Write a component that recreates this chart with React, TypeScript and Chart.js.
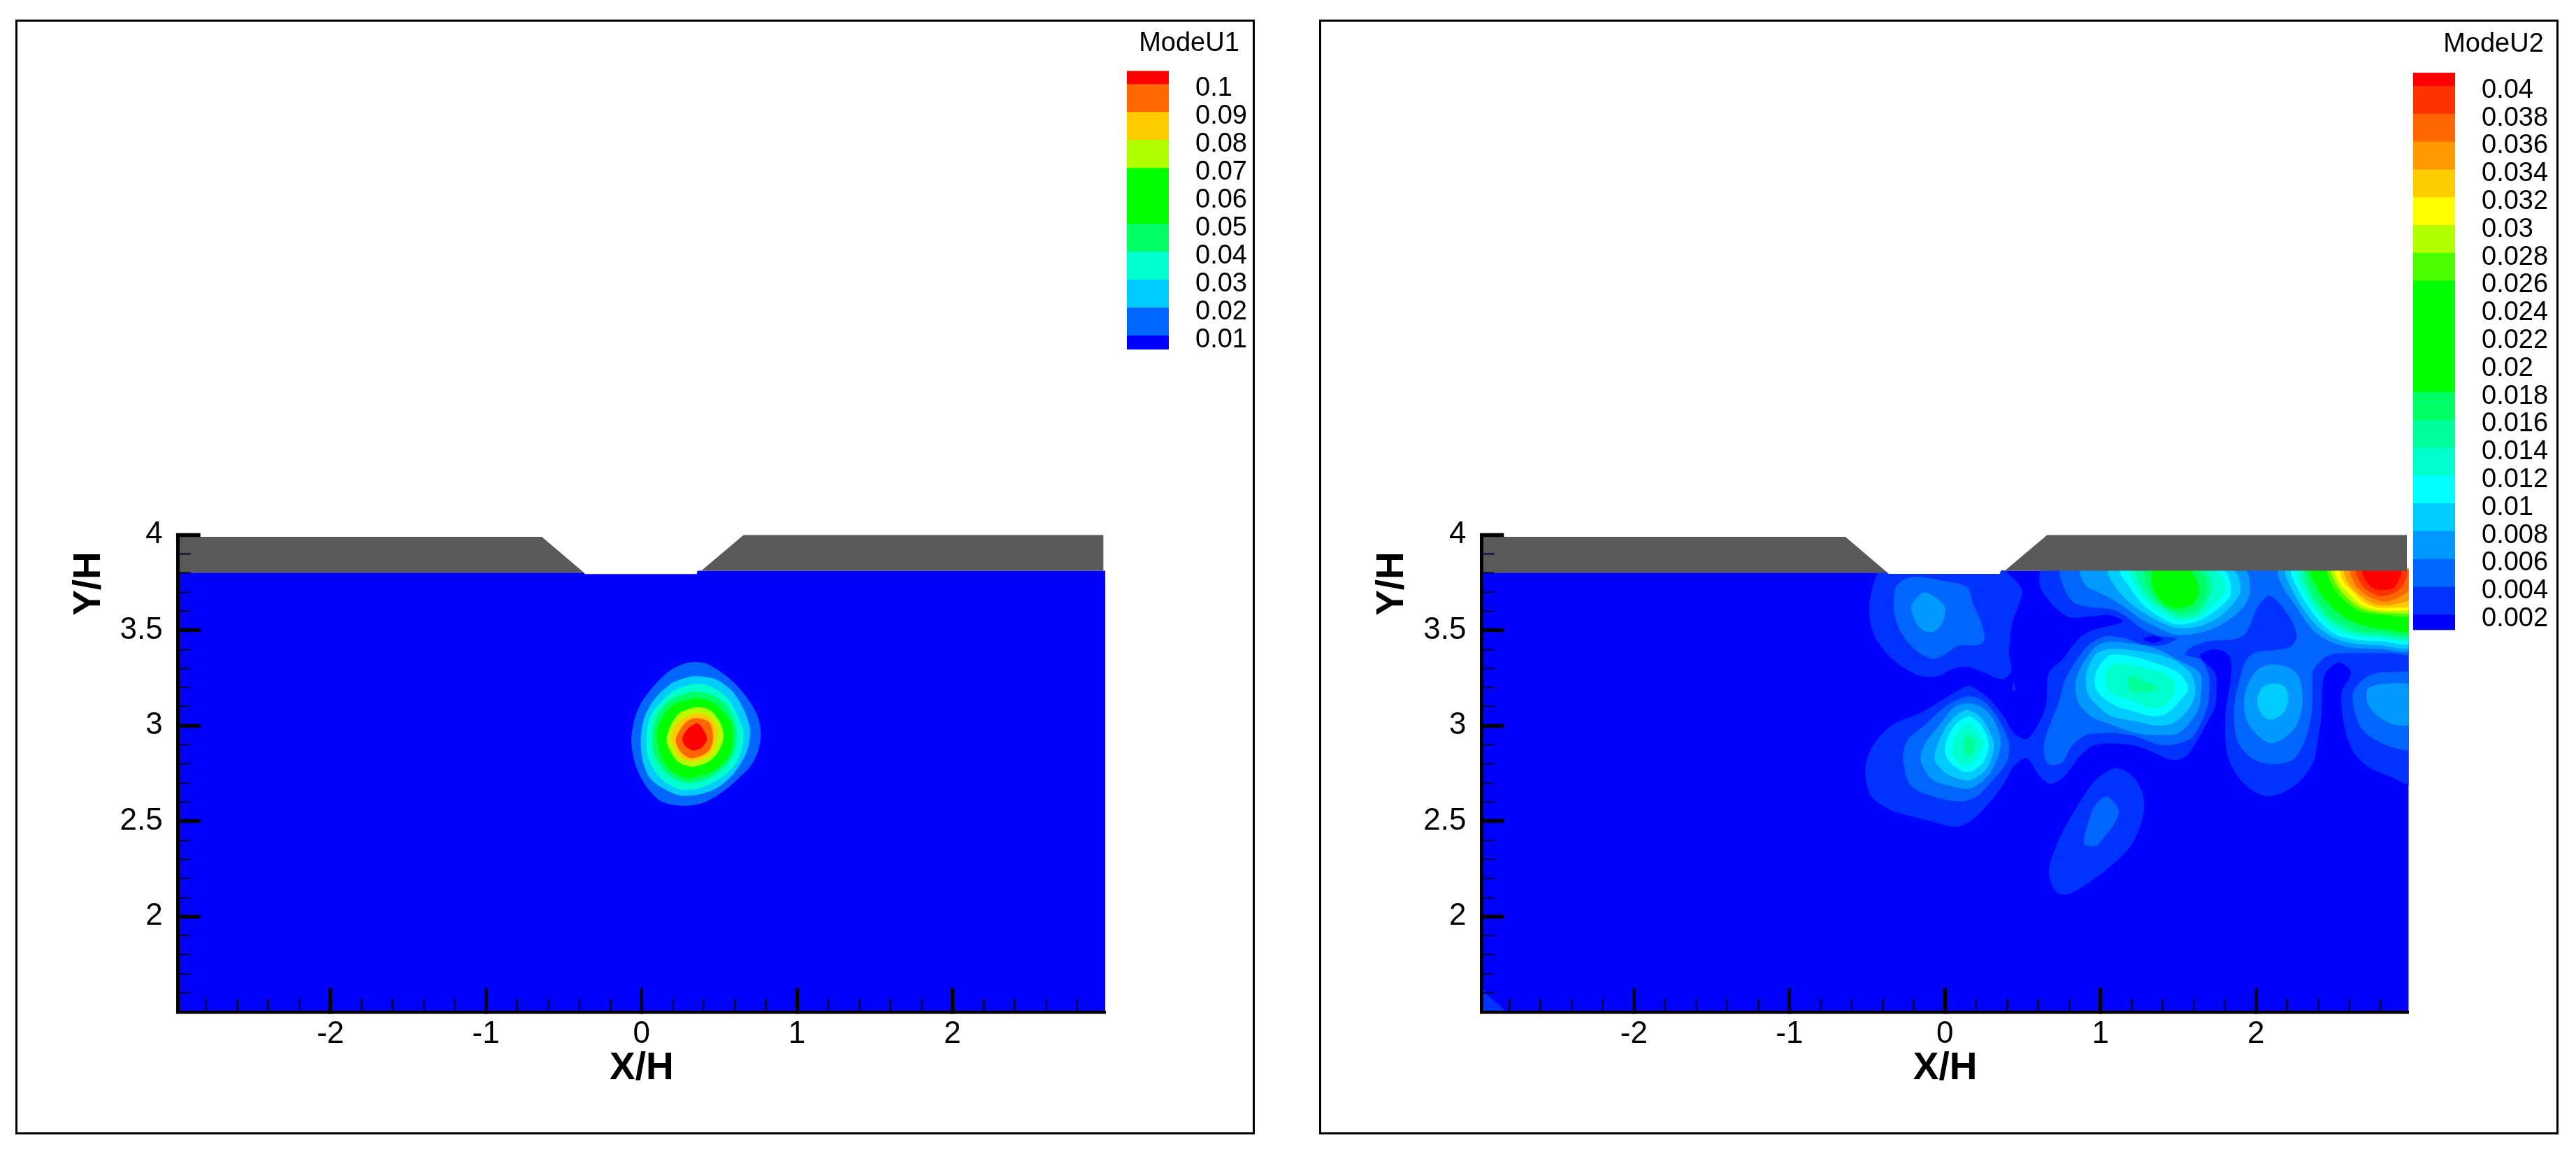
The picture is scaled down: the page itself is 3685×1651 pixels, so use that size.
import React, { useEffect, useRef } from "react";
import { Chart, registerables } from "chart.js";

Chart.register(...registerables);

type Pt = [number, number];

const FONT = "'Liberation Sans', Arial, sans-serif";

// ---------- axes ----------
const xMajorTicks = [-2, -1, 0, 1, 2];
const xMinorTicks = [-2.8, -2.6, -2.4, -2.2, -1.8, -1.6, -1.4, -1.2, -0.8, -0.6, -0.4, -0.2, 0.2, 0.4, 0.6, 0.8, 1.2, 1.4, 1.6, 1.8, 2.2, 2.4, 2.6, 2.8];
const yMajorTicks = [2, 2.5, 3, 3.5, 4];
const yMinorTicks = [1.6, 1.7, 1.8, 1.9, 2.1, 2.2, 2.3, 2.4, 2.6, 2.7, 2.8, 2.9, 3.1, 3.2, 3.3, 3.4, 3.6, 3.7, 3.8, 3.9];
const xRange: Pt = [-2.98, 2.982];
const yRange: Pt = [1.5, 4];
const xTitle = "X/H";
const yTitle = "Y/H";

// ---------- geometry ----------
const wallColor = "#595959";
const baseColor = "#0000ff";
const wallLeft: Pt[] = [[-2.98, 3.99], [-0.641, 3.99], [-0.37, 3.802], [-2.98, 3.802]];
const wallRight: Pt[] = [[0.6575, 4], [2.97, 4], [2.97, 3.812], [0.385, 3.812]];
const flowField: Pt[] = [[-2.98, 1.5], [-2.98, 3.802], [-0.37, 3.802], [-0.365, 3.795], [0.355, 3.795], [0.36, 3.812], [2.982, 3.812], [2.982, 1.5]];

// ---------- ModeU1 legend ----------
const u1Title = "ModeU1";
const u1Levels = [0.01, 0.02, 0.03, 0.04, 0.05, 0.06, 0.07, 0.08, 0.09, 0.1];
const u1BandEdges = [0.0051, 0.01, 0.02, 0.03, 0.04, 0.05, 0.07, 0.08, 0.09, 0.1, 0.1048];
const u1BandColors = ["#0000ff", "#0066ff", "#00ccff", "#00ffcc", "#00ff66", "#00ff00", "#b2ff00", "#ffcc00", "#ff6600", "#ff0000"];

// ---------- ModeU2 legend ----------
const u2Title = "ModeU2";
const u2Levels = [0.002, 0.004, 0.006, 0.008, 0.01, 0.012, 0.014, 0.016, 0.018, 0.02, 0.022, 0.024, 0.026, 0.028, 0.03, 0.032, 0.034, 0.036, 0.038, 0.04];
const u2BandEdges = [0.0009, 0.002, 0.004, 0.006, 0.008, 0.01, 0.012, 0.014, 0.016, 0.018, 0.026, 0.028, 0.03, 0.032, 0.034, 0.036, 0.038, 0.04, 0.04097];
const u2BandColors = ["#0000ff", "#0033ff", "#0066ff", "#0099ff", "#00ccff", "#00ffff", "#00ffcc", "#00ff99", "#00ff66", "#00ff00", "#4cff00", "#b2ff00", "#ffff00", "#ffcc00", "#ff9900", "#ff6600", "#ff3300", "#ff0000"];

// ---------- ModeU1 contours ----------
const u1c010: Pt[] = [[.295, 3.33], [.4, 3.33], [.49, 3.293], [.594, 3.226], [.684, 3.14], [.744, 3.055], [.767, 2.969], [.752, 2.872], [.699, 2.786], [.624, 2.725], [.52, 2.652], [.4, 2.597], [.295, 2.581], [.205, 2.585], [.115, 2.609], [.025, 2.689], [-.035, 2.786], [-.065, 2.908], [-.05, 3.018], [-.005, 3.116], [.085, 3.214], [.19, 3.293]];
const u1c020: Pt[] = [[.355, 3.26], [.475, 3.244], [.58, 3.183], [.654, 3.091], [.696, 2.994], [.692, 2.908], [.654, 2.823], [.58, 2.737], [.49, 2.676], [.37, 2.64], [.25, 2.634], [.145, 2.67], [.055, 2.725], [.01, 2.811], [-.005, 2.921], [.018, 3.043], [.085, 3.14], [.19, 3.22], [.28, 3.25]];
const u1c030: Pt[] = [[.355, 3.22], [.46, 3.201], [.557, 3.14], [.617, 3.055], [.654, 2.969], [.647, 2.884], [.594, 2.786], [.505, 2.725], [.385, 2.676], [.265, 2.664], [.16, 2.701], [.085, 2.762], [.04, 2.847], [.033, 2.945], [.055, 3.043], [.13, 3.128], [.22, 3.189]];
const u1c040: Pt[] = [[.355, 3.179], [.46, 3.159], [.542, 3.11], [.594, 3.03], [.612, 2.945], [.594, 2.859], [.535, 2.786], [.43, 2.725], [.31, 2.701], [.205, 2.725], [.123, 2.786], [.078, 2.859], [.07, 2.957], [.1, 3.055], [.175, 3.128], [.265, 3.165]];
const u1c050: Pt[] = [[.355, 3.146], [.445, 3.128], [.52, 3.079], [.58, 3.006], [.587, 2.933], [.565, 2.847], [.505, 2.786], [.4, 2.743], [.295, 2.725], [.205, 2.756], [.145, 2.811], [.108, 2.884], [.1, 2.969], [.138, 3.049], [.205, 3.11], [.287, 3.134]];
const u1c070: Pt[] = [[.362, 3.098], [.445, 3.079], [.512, 3.006], [.527, 2.933], [.49, 2.859], [.43, 2.811], [.325, 2.786], [.235, 2.811], [.19, 2.859], [.16, 2.927], [.19, 3.006], [.235, 3.061], [.295, 3.085]];
const u1c080: Pt[] = [[.355, 3.067], [.445, 3.043], [.49, 2.982], [.475, 2.896], [.43, 2.841], [.325, 2.811], [.25, 2.835], [.213, 2.878], [.19, 2.933], [.213, 3], [.273, 3.043]];
const u1c090: Pt[] = [[.355, 3.04], [.437, 3.018], [.46, 2.933], [.43, 2.866], [.325, 2.829], [.273, 2.847], [.235, 2.884], [.22, 2.927], [.25, 2.982], [.295, 3.024]];
const u1c100: Pt[] = [[.362, 3.012], [.422, 2.933], [.385, 2.884], [.325, 2.872], [.273, 2.902], [.265, 2.939], [.295, 2.982]];

const modeU1Contours: [string, Pt[]][] = [
  ["#0066ff", u1c010], ["#00ccff", u1c020], ["#00ffcc", u1c030], ["#00ff66", u1c040], ["#00ff00", u1c050],
  ["#b2ff00", u1c070], ["#ffcc00", u1c080], ["#ff6600", u1c090], ["#ff0000", u1c100],
];

// ---------- ModeU2 contours: level 0.002 ----------
const u2big002: Pt[] = [[.629, 3.815], [3, 3.815], [3, 2.7], [2.869, 2.731], [2.719, 2.786], [2.629, 2.86], [2.584, 2.945], [2.554, 3.067], [2.551, 3.177], [2.611, 3.281], [2.532, 3.33], [2.449, 3.281], [2.427, 3.189], [2.419, 3.043], [2.397, 2.921], [2.374, 2.823], [2.314, 2.737], [2.21, 2.664], [2.075, 2.63], [1.97, 2.664], [1.88, 2.737], [1.82, 2.835], [1.802, 2.945], [1.805, 3.079], [1.835, 3.226], [1.838, 3.348], [1.79, 3.391], [1.715, 3.399], [1.64, 3.366], [1.738, 3.275], [1.745, 3.189], [1.738, 3.104], [1.67, 2.994], [1.61, 2.908], [1.55, 2.841], [1.461, 2.82], [1.341, 2.86], [1.221, 2.896], [1.071, 2.908], [.951, 2.896], [.861, 2.835], [.771, 2.737], [.681, 2.695], [.621, 2.725], [.524, 2.829], [.441, 2.786], [.382, 2.701], [.292, 2.603], [.172, 2.505], [.067, 2.471], [-.113, 2.505], [-.337, 2.554], [-.472, 2.628], [-.51, 2.725], [-.502, 2.823], [-.442, 2.921], [-.337, 3.006], [-.158, 3.067], [-.008, 3.14], [.149, 3.208], [.217, 3.183], [.292, 3.134], [.382, 3.043], [.441, 2.963], [.524, 2.93], [.606, 3.018], [.651, 3.116], [.666, 3.275], [.756, 3.348], [.861, 3.458], [.951, 3.501], [1.146, 3.546], [1.056, 3.58], [.951, 3.574], [.801, 3.568], [.711, 3.617], [.614, 3.726]];
const u2a002: Pt[] = [[-.427, 3.802], [-.37, 3.802], [-.365, 3.795], [-.337, 3.795], [.33, 3.795], [.352, 3.795], [.36, 3.812], [.385, 3.812], [.494, 3.714], [.472, 3.629], [.434, 3.543], [.412, 3.385], [.427, 3.287], [.37, 3.244], [.262, 3.275], [.142, 3.309], [.037, 3.293], [-.038, 3.262], [-.128, 3.256], [-.218, 3.281], [-.337, 3.348], [-.442, 3.452], [-.48, 3.543], [-.487, 3.629], [-.465, 3.727]];
const u2c002: Pt[] = [[1.093, 2.778], [1.208, 2.735], [1.274, 2.637], [1.274, 2.528], [1.193, 2.369], [1.021, 2.235], [.805, 2.12], [.719, 2.126], [.668, 2.235], [.734, 2.406], [.849, 2.577], [.963, 2.711]];
const u2speck002: Pt[] = [[.439, 3.226], [.451, 3.201], [.445, 3.177], [.433, 3.195]];
const u2corner002: Pt[] = [[-3, 1.64], [-2.93, 1.58], [-2.83, 1.5], [-3, 1.48]];
const u2hole: Pt[] = [[1.273, 3.454], [1.341, 3.472], [1.401, 3.454], [1.341, 3.433]];

// level 0.004
const u2big004: Pt[] = [[.749, 3.815], [3, 3.815], [3, 3.381], [2.869, 3.381], [2.532, 3.379], [2.457, 3.366], [2.404, 3.33], [2.367, 3.287], [2.359, 3.079], [2.314, 2.921], [2.24, 2.823], [2.12, 2.799], [1.985, 2.823], [1.887, 2.908], [1.86, 3.018], [1.865, 3.14], [1.902, 3.262], [1.94, 3.348], [2, 3.385], [2.12, 3.397], [2.225, 3.415], [2.262, 3.47], [2.225, 3.556], [2.15, 3.641], [2.082, 3.681], [2.015, 3.629], [1.97, 3.543], [1.925, 3.476], [1.85, 3.452], [1.7, 3.443], [1.58, 3.409], [1.543, 3.372], [1.64, 3.348], [1.693, 3.275], [1.7, 3.189], [1.685, 3.092], [1.625, 2.982], [1.58, 2.933], [1.475, 2.902], [1.371, 2.902], [1.221, 2.945], [1.071, 2.963], [.951, 2.957], [.906, 2.951], [.816, 2.896], [.749, 2.805], [.666, 2.799], [.636, 2.86], [.644, 2.933], [.681, 3.018], [.734, 3.128], [.771, 3.238], [.839, 3.336], [.921, 3.421], [1.011, 3.464], [1.071, 3.47], [1.161, 3.458], [1.273, 3.427], [1.393, 3.421], [1.49, 3.458], [1.371, 3.472], [1.266, 3.509], [1.161, 3.574], [1.071, 3.61], [.921, 3.623], [.824, 3.647], [.764, 3.726]];
const u2a004: Pt[] = [[-.188, 3.781], [-.038, 3.763], [.142, 3.727], [.179, 3.641], [.232, 3.543], [.254, 3.452], [.217, 3.424], [.082, 3.419], [.007, 3.378], [-.075, 3.35], [-.158, 3.378], [-.247, 3.446], [-.307, 3.531], [-.33, 3.629], [-.315, 3.727], [-.27, 3.763]];
const u2b004: Pt[] = [[.149, 3.155], [.247, 3.128], [.337, 3.043], [.412, 2.908], [.397, 2.811], [.292, 2.701], [.202, 2.628], [.112, 2.603], [-.008, 2.615], [-.158, 2.652], [-.233, 2.701], [-.263, 2.786], [-.27, 2.847], [-.24, 2.927], [-.128, 3.006], [.007, 3.104]];
const u2c004: Pt[] = [[1.038, 2.63], [1.116, 2.56], [1.093, 2.493], [1.026, 2.42], [.973, 2.371], [.894, 2.383], [.921, 2.493], [.958, 2.573]];
const u2f004: Pt[] = [[3, 3.269], [2.869, 3.281], [2.764, 3.275], [2.674, 3.232], [2.622, 3.165], [2.637, 3.067], [2.681, 2.982], [2.779, 2.921], [2.884, 2.886], [3, 2.881]];

// level 0.006
const u2a006: Pt[] = [[-.135, 3.7], [-.06, 3.671], [0, 3.623], [-.015, 3.543], [-.075, 3.492], [-.143, 3.501], [-.188, 3.543], [-.218, 3.623], [-.188, 3.665]];
const u2b006: Pt[] = [[.149, 3.118], [.247, 3.092], [.322, 3.018], [.359, 2.908], [.322, 2.799], [.262, 2.725], [.157, 2.67], [.037, 2.683], [-.083, 2.719], [-.143, 2.786], [-.158, 2.835], [-.128, 2.908], [-.038, 3], [.052, 3.092]];
const u2e006: Pt[] = [[2.12, 3.321], [2.21, 3.305], [2.27, 3.262], [2.299, 3.177], [2.292, 3.079], [2.254, 2.994], [2.165, 2.927], [2.09, 2.908], [2, 2.957], [1.94, 3.03], [1.922, 3.116], [1.94, 3.201], [2, 3.287], [2.06, 3.314]];
const u2f006: Pt[] = [[3, 3.207], [2.839, 3.22], [2.719, 3.195], [2.719, 3.116], [2.794, 3.043], [2.899, 3.004], [3, 3.012]];
const u2g006: Pt[] = [[.839, 3.226], [.861, 3.116], [.951, 3.043], [1.071, 3.006], [1.221, 2.963], [1.371, 2.951], [1.505, 2.963], [1.625, 3.079], [1.648, 3.189], [1.64, 3.275], [1.52, 3.336], [1.341, 3.409], [1.071, 3.44], [.981, 3.421], [.936, 3.385], [.876, 3.311]];
const u2h006: Pt[] = [[.876, 3.815], [1.925, 3.815], [1.962, 3.714], [1.925, 3.629], [1.805, 3.543], [1.67, 3.494], [1.49, 3.476], [1.371, 3.513], [1.266, 3.556], [1.161, 3.617], [1.071, 3.665], [.981, 3.702], [.906, 3.733]];
const u2j006: Pt[] = [[2.147, 3.815], [2.165, 3.739], [2.254, 3.629], [2.359, 3.507], [2.464, 3.446], [2.599, 3.411], [2.794, 3.402], [3, 3.402], [3, 3.815]];

// level 0.008
const u2b008: Pt[] = [[.149, 3.082], [.232, 3.043], [.299, 2.945], [.314, 2.884], [.277, 2.786], [.217, 2.737], [.142, 2.713], [.022, 2.743], [-.053, 2.799], [-.068, 2.835], [-.045, 2.908], [.007, 2.994], [.082, 3.061]];
const u2e008: Pt[] = [[2.12, 3.222], [2.187, 3.201], [2.207, 3.153], [2.187, 3.079], [2.12, 3.037], [2.067, 3.037], [2.015, 3.092], [2.012, 3.153], [2.045, 3.204]];
const u2g008: Pt[] = [[.906, 3.262], [.921, 3.165], [1.006, 3.085], [1.071, 3.049], [1.221, 3.024], [1.371, 3], [1.476, 3.018], [1.58, 3.104], [1.61, 3.189], [1.58, 3.275], [1.461, 3.348], [1.296, 3.385], [1.071, 3.403], [.966, 3.372]];
const u2h008: Pt[] = [[1.053, 3.815], [1.85, 3.815], [1.902, 3.714], [1.865, 3.653], [1.76, 3.568], [1.625, 3.519], [1.49, 3.513], [1.371, 3.549], [1.266, 3.598], [1.161, 3.665], [1.071, 3.757]];
const u2j008: Pt[] = [[2.195, 3.815], [2.217, 3.739], [2.299, 3.617], [2.397, 3.519], [2.494, 3.464], [2.614, 3.433], [2.794, 3.421], [3, 3.419], [3, 3.815]];

// level 0.01
const u2b010: Pt[] = [[.149, 3.049], [.217, 3.018], [.269, 2.945], [.28, 2.884], [.247, 2.811], [.172, 2.762], [.112, 2.762], [.03, 2.811], [0, 2.866], [.015, 2.933], [.067, 3.006]];
const u2g010: Pt[] = [[.969, 3.275], [.973, 3.189], [1.071, 3.116], [1.221, 3.073], [1.341, 3.049], [1.431, 3.067], [1.52, 3.14], [1.565, 3.195], [1.505, 3.275], [1.371, 3.323], [1.221, 3.36], [1.071, 3.372], [1.026, 3.348]];
const u2h010: Pt[] = [[1.131, 3.815], [1.787, 3.815], [1.838, 3.69], [1.73, 3.598], [1.625, 3.549], [1.49, 3.531], [1.371, 3.574], [1.266, 3.641], [1.176, 3.739]];
const u2j010: Pt[] = [[2.232, 3.815], [2.254, 3.739], [2.337, 3.623], [2.427, 3.531], [2.517, 3.476], [2.629, 3.452], [2.794, 3.443], [3, 3.441], [3, 3.815]];

// level 0.012
const u2b012: Pt[] = [[.149, 3.012], [.209, 2.963], [.247, 2.908], [.209, 2.835], [.157, 2.792], [.097, 2.799], [.049, 2.86], [.052, 2.921], [.097, 2.976]];
const u2g012: Pt[] = [[1.029, 3.262], [1.048, 3.183], [1.071, 3.165], [1.206, 3.128], [1.326, 3.092], [1.416, 3.11], [1.483, 3.195], [1.416, 3.275], [1.296, 3.299], [1.161, 3.324], [1.071, 3.317]];
const u2h012: Pt[] = [[1.191, 3.815], [1.738, 3.815], [1.805, 3.714], [1.715, 3.623], [1.625, 3.565], [1.505, 3.553], [1.401, 3.592], [1.311, 3.641], [1.221, 3.739]];
const u2j012: Pt[] = [[2.27, 3.815], [2.284, 3.739], [2.359, 3.629], [2.449, 3.543], [2.539, 3.495], [2.644, 3.47], [2.794, 3.461], [3, 3.458], [3, 3.815]];

// level 0.014
const u2b014: Pt[] = [[.154, 2.951], [.199, 2.908], [.154, 2.835], [.112, 2.902]];
const u2g014: Pt[] = [[1.191, 3.262], [1.266, 3.238], [1.378, 3.195], [1.221, 3.171], [1.176, 3.208]];
const u2h014: Pt[] = [[1.236, 3.815], [1.678, 3.815], [1.723, 3.739], [1.7, 3.671], [1.625, 3.586], [1.505, 3.57], [1.423, 3.61], [1.333, 3.653], [1.258, 3.739]];
const u2j014: Pt[] = [[2.307, 3.815], [2.314, 3.739], [2.382, 3.641], [2.472, 3.553], [2.561, 3.509], [2.659, 3.482], [2.794, 3.474], [3, 3.47], [3, 3.815]];

// level 0.016 and up
const u2h016: Pt[] = [[1.288, 3.815], [1.633, 3.815], [1.686, 3.733], [1.67, 3.671], [1.61, 3.61], [1.505, 3.59], [1.423, 3.61], [1.356, 3.659], [1.296, 3.739]];
const u2j016: Pt[] = [[2.329, 3.815], [2.337, 3.739], [2.401, 3.647], [2.494, 3.562], [2.584, 3.525], [2.674, 3.497], [2.794, 3.488], [3, 3.485], [3, 3.815]];
const u2h018: Pt[] = [[1.341, 3.815], [1.573, 3.815], [1.633, 3.714], [1.595, 3.641], [1.498, 3.614], [1.416, 3.635], [1.341, 3.714]];
const u2j018: Pt[] = [[2.352, 3.815], [2.389, 3.726], [2.464, 3.641], [2.569, 3.568], [2.689, 3.525], [2.839, 3.504], [3, 3.501], [3, 3.815]];
const u2j026: Pt[] = [[2.464, 3.815], [2.487, 3.739], [2.554, 3.665], [2.644, 3.61], [2.734, 3.586], [2.839, 3.58], [3, 3.582], [3, 3.815]];
const u2j028: Pt[] = [[2.487, 3.815], [2.509, 3.751], [2.577, 3.678], [2.659, 3.623], [2.749, 3.598], [2.869, 3.59], [3, 3.598], [3, 3.815]];
const u2j030: Pt[] = [[2.514, 3.815], [2.532, 3.751], [2.599, 3.69], [2.674, 3.635], [2.764, 3.61], [2.869, 3.602], [3, 3.619], [3, 3.815]];
const u2j032: Pt[] = [[2.547, 3.815], [2.562, 3.757], [2.629, 3.696], [2.704, 3.641], [2.779, 3.619], [2.884, 3.619], [3, 3.631], [3, 3.815]];
const u2j034: Pt[] = [[2.574, 3.815], [2.592, 3.751], [2.651, 3.696], [2.734, 3.647], [2.809, 3.631], [2.899, 3.638], [3, 3.671], [3, 3.815]];
const u2j036: Pt[] = [[2.611, 3.815], [2.629, 3.751], [2.681, 3.702], [2.756, 3.665], [2.839, 3.651], [2.929, 3.678], [3, 3.726], [3, 3.815]];
const u2j038: Pt[] = [[2.648, 3.815], [2.666, 3.757], [2.719, 3.708], [2.794, 3.68], [2.869, 3.69], [2.944, 3.733], [2.97, 3.815]];
const u2j040: Pt[] = [[2.686, 3.815], [2.704, 3.763], [2.756, 3.72], [2.831, 3.711], [2.891, 3.726], [2.929, 3.815]];

const modeU2Contours: [string, Pt[]][] = [
  ["#0033ff", u2big002], ["#0033ff", u2a002], ["#0033ff", u2c002], ["#0033ff", u2speck002], ["#0033ff", u2corner002], ["#0000ff", u2hole],
  ["#0066ff", u2big004], ["#0066ff", u2a004], ["#0066ff", u2b004], ["#0066ff", u2c004], ["#0066ff", u2f004],
  ["#0099ff", u2a006], ["#0099ff", u2b006], ["#0099ff", u2e006], ["#0099ff", u2f006], ["#0099ff", u2g006], ["#0099ff", u2h006], ["#0099ff", u2j006],
  ["#00ccff", u2b008], ["#00ccff", u2e008], ["#00ccff", u2g008], ["#00ccff", u2h008], ["#00ccff", u2j008],
  ["#00ffff", u2b010], ["#00ffff", u2g010], ["#00ffff", u2h010], ["#00ffff", u2j010],
  ["#00ffcc", u2b012], ["#00ffcc", u2g012], ["#00ffcc", u2h012], ["#00ffcc", u2j012],
  ["#00ff99", u2b014], ["#00ff99", u2g014], ["#00ff99", u2h014], ["#00ff99", u2j014],
  ["#00ff66", u2h016], ["#00ff66", u2j016],
  ["#00ff00", u2h018], ["#00ff00", u2j018],
  ["#4cff00", u2j026], ["#b2ff00", u2j028], ["#ffff00", u2j030], ["#ffcc00", u2j032], ["#ff9900", u2j034], ["#ff6600", u2j036], ["#ff3300", u2j038], ["#ff0000", u2j040],
];

// ---------- chart builders ----------
const closePolygons = {
  id: "closePolygons",
  afterDatasetsUpdate(chart: any) {
    chart.data.datasets.forEach((_: any, i: number) => {
      const line = chart.getDatasetMeta(i).dataset;
      if (line) {
        line._loop = true;
        line._fullLoop = true;
        line._segments = undefined;
        line._pointsUpdated = false;
      }
    });
  },
};

function polygon(color: string, pts: Pt[], tension: number) {
  return {
    type: "scatter",
    data: pts.map(([x, y]) => ({ x, y })),
    showLine: true,
    fill: "shape",
    spanGaps: true,
    backgroundColor: color,
    borderColor: color,
    borderWidth: 0,
    pointRadius: 0,
    pointHoverRadius: 0,
    tension,
  };
}

function panelConfig(contours: [string, Pt[]][], box: any) {
  const seq = [
    polygon(baseColor, flowField, 0),
    ...contours.map(([c, p]) => polygon(c, p, 0.3)),
    polygon(wallColor, wallLeft, 0),
    polygon(wallColor, wallRight, 0),
  ];
  const datasets = seq.map((d, i) => ({ ...d, order: seq.length - i }));
  const tickFont = { family: FONT, size: 44 };
  const yTitlePlugin = {
    id: "yTitle",
    afterDraw(chart: any) {
      const { ctx } = chart;
      ctx.save();
      ctx.translate(box.yTitleX - box.left, box.yTitleY - box.top);
      ctx.rotate(-Math.PI / 2);
      ctx.font = `bold 55px ${FONT}`;
      ctx.fillStyle = "#000";
      ctx.textAlign = "center";
      ctx.textBaseline = "middle";
      ctx.fillText(yTitle, 0, 0);
      ctx.restore();
    },
  };
  const setTicks = (values: number[]) => (s: any) => {
    s.ticks = values.map((value) => ({ value }));
  };
  return {
    type: "scatter",
    data: { datasets },
    plugins: [closePolygons, yTitlePlugin],
    options: {
      responsive: false,
      animation: false,
      devicePixelRatio: 1,
      events: [],
      layout: { padding: { top: box.chartTop - box.top, right: box.left + box.width - box.chartRight, left: 0, bottom: 0 } },
      plugins: { legend: { display: false }, tooltip: { enabled: false }, title: { display: false }, filler: { drawTime: "beforeDatasetDraw" } },
      scales: {
        x: {
          type: "linear",
          position: "bottom",
          min: xRange[0],
          max: xRange[1],
          afterBuildTicks: setTicks(xMajorTicks),
          afterFit: (s: any) => { s.height = box.top + box.height - box.chartBottom; },
          grid: { drawOnChartArea: false, drawTicks: true, tickLength: -34, tickWidth: 5, tickColor: "#000", z: 1 },
          border: { display: true, width: 4.5, color: "#000", z: 2 },
          ticks: { font: tickFont, color: "#000", padding: 40, maxRotation: 0, autoSkip: false, callback: (v: any) => String(v) },
          title: { display: true, text: xTitle, color: "#000", font: { family: FONT, size: 55, weight: "bold" }, padding: { top: 0, bottom: 48 } },
        },
        xMinor: {
          type: "linear",
          axis: "x",
          position: "bottom",
          weight: -1,
          min: xRange[0],
          max: xRange[1],
          afterBuildTicks: setTicks(xMinorTicks),
          afterFit: (s: any) => { s.height = 0; },
          grid: { drawOnChartArea: false, drawTicks: true, tickLength: -19, tickWidth: 2.5, tickColor: "#00002c", z: 1 },
          border: { display: false },
          ticks: { display: false },
        },
        y: {
          type: "linear",
          position: "left",
          min: yRange[0],
          max: yRange[1],
          afterBuildTicks: setTicks(yMajorTicks),
          afterFit: (s: any) => { s.width = box.chartLeft - box.left; },
          grid: { drawOnChartArea: false, drawTicks: true, tickLength: -32, tickWidth: 5.5, tickColor: "#000", z: 1 },
          border: { display: true, width: 5, color: "#000", z: 2 },
          ticks: { font: tickFont, color: "#000", padding: 54, autoSkip: false, callback: (v: any) => String(v) },
        },
        yMinor: {
          type: "linear",
          axis: "y",
          position: "left",
          weight: -1,
          min: yRange[0],
          max: yRange[1],
          afterBuildTicks: setTicks(yMinorTicks),
          afterFit: (s: any) => { s.width = 0; },
          grid: { drawOnChartArea: false, drawTicks: true, tickLength: -18, tickWidth: 2, tickColor: "#00002c", z: 1 },
          border: { display: false },
          ticks: { display: false },
        },
      },
    },
  };
}

function legendConfig(title: string, levels: number[], edges: number[], colors: string[], box: any) {
  const datasets = colors.map((c, i) => ({
    data: [[edges[i], edges[i + 1]]],
    backgroundColor: c,
    borderWidth: 0,
    grouped: false,
    barPercentage: 1,
    categoryPercentage: 1,
  }));
  return {
    type: "bar",
    data: { labels: [""], datasets },
    options: {
      responsive: false,
      animation: false,
      devicePixelRatio: 1,
      events: [],
      layout: { padding: { left: 0, right: 0, top: 0, bottom: box.top + box.height - box.barBottom } },
      plugins: {
        legend: { display: false },
        tooltip: { enabled: false },
        title: {
          display: true,
          text: title,
          align: "center",
          color: "#000",
          font: { family: FONT, size: 38, weight: "normal" },
          padding: { top: box.titleCenter - box.top - 22.8, bottom: box.barTop - box.titleCenter - 22.8 },
        },
      },
      scales: {
        x: { display: false, type: "category", offset: true },
        y: {
          type: "linear",
          position: "right",
          min: edges[0],
          max: edges[edges.length - 1],
          afterBuildTicks: (s: any) => { s.ticks = levels.map((value) => ({ value })); },
          afterFit: (s: any) => { s.width = box.left + box.width - box.barRight; },
          grid: { display: false },
          border: { display: false },
          ticks: { font: { family: FONT, size: 38 }, color: "#000", padding: 30, labelOffset: 6, autoSkip: false, callback: (v: any) => String(v) },
        },
      },
    },
  };
}

// ---------- layout boxes ----------
const panelBoxes = [
  { left: 30, top: 620, width: 1565, height: 990, chartLeft: 254.7, chartRight: 1581, chartTop: 765.3, chartBottom: 1447.8, yTitleX: 127.5, yTitleY: 835 },
  { left: 1895, top: 620, width: 1565, height: 990, chartLeft: 2119.4, chartRight: 3445.7, chartTop: 765.3, chartBottom: 1447.8, yTitleX: 1992.2, yTitleY: 835 },
];
const legendBoxes = [
  { left: 1612, top: 30, width: 178, height: 540, barRight: 1672, barTop: 101.4, barBottom: 500, titleCenter: 63 },
  { left: 3452, top: 30, width: 230, height: 930, barRight: 3512, barTop: 104, barBottom: 901.5, titleCenter: 64 },
];
const frameBoxes = [
  { left: 22, top: 28, width: 1773, height: 1595 },
  { left: 1887, top: 28, width: 1773, height: 1595 },
];

function ChartCanvas({ box, make }: { box: any; make: () => any }) {
  const ref = useRef<HTMLCanvasElement | null>(null);
  useEffect(() => {
    const chart = new Chart(ref.current as HTMLCanvasElement, make());
    return () => chart.destroy();
  }, []);
  return (
    <canvas
      ref={ref}
      width={box.width}
      height={box.height}
      style={{ position: "absolute", left: box.left, top: box.top, width: box.width, height: box.height, display: "block" }}
    />
  );
}

export default function App() {
  return (
    <div style={{ position: "absolute", left: 0, top: 0, width: 3685, height: 1651, background: "#fff", overflow: "hidden" }}>
      {frameBoxes.map((f, i) => (
        <div key={i} style={{ position: "absolute", left: f.left, top: f.top, width: f.width, height: f.height, boxSizing: "border-box", border: "3.5px solid #000" }} />
      ))}
      <ChartCanvas box={panelBoxes[0]} make={() => panelConfig(modeU1Contours, panelBoxes[0])} />
      <ChartCanvas box={panelBoxes[1]} make={() => panelConfig(modeU2Contours, panelBoxes[1])} />
      <ChartCanvas box={legendBoxes[0]} make={() => legendConfig(u1Title, u1Levels, u1BandEdges, u1BandColors, legendBoxes[0])} />
      <ChartCanvas box={legendBoxes[1]} make={() => legendConfig(u2Title, u2Levels, u2BandEdges, u2BandColors, legendBoxes[1])} />
    </div>
  );
}
